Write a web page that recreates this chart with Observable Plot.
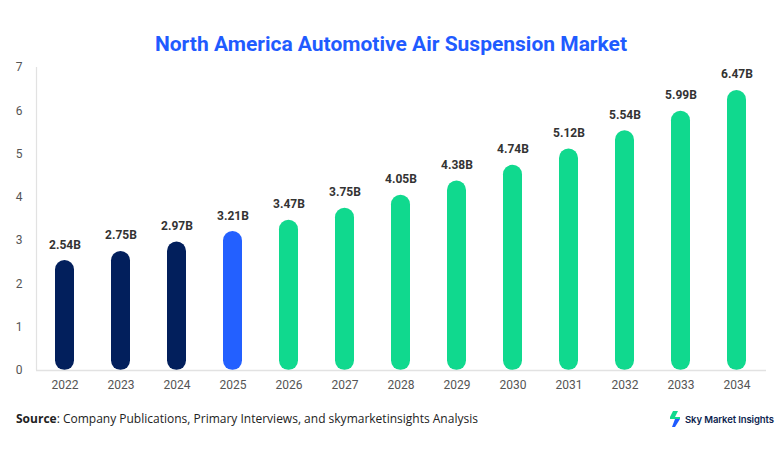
<!DOCTYPE html>
<html>
<head>
<meta charset="utf-8">
<script src="https://cdn.jsdelivr.net/npm/d3@7"></script>
<script src="https://cdn.jsdelivr.net/npm/@observablehq/plot@0.6"></script>
<style>
  body { margin: 0; background: #fff; width: 782px; height: 454px; overflow: hidden; position: relative; font-family: Roboto, "Liberation Sans", Arial, sans-serif; }
  #title { position: absolute; top: 32px; left: 0; width: 782px; text-align: center; font: bold 21px Roboto, "Liberation Sans", Arial, sans-serif; color: #1f5bff; }
  #chart { position: absolute; top: 57px; left: 0; }
  #source { position: absolute; top: 410px; left: 16px; font: 12px "Open Sans", "Noto Sans", sans-serif; color: #222; }
  #logo { position: absolute; top: 411px; left: 668px; display: flex; align-items: center; font: 600 9.5px Inter, "Noto Sans", sans-serif; color: #0d1f4f; letter-spacing: -0.1px; }
  #logo svg { margin-right: 3px; }
</style>
</head>
<body>
<div id="title">North America Automotive Air Suspension Market</div>
<div id="chart"></div>
<div id="source"><b>Source</b>: Company Publications, Primary Interviews, and skymarketinsights Analysis</div>
<div id="logo">
  <svg width="14" height="16" viewBox="0 0 14 16">
    <polygon points="5,0 10,0 7,6 2,6" fill="#10d98e"/>
    <polygon points="2,6 12,6 12,8 2,8" fill="#10d98e"/>
    <polygon points="7,8 12,8 7,16 4,16" fill="#1f5bff"/>
  </svg>
  <span>Sky Market Insights</span>
</div>
<script>
const years = ["2022","2023","2024","2025","2026","2027","2028","2029","2030","2031","2032","2033","2034"];
const values = [2.54, 2.75, 2.97, 3.21, 3.47, 3.75, 4.05, 4.38, 4.74, 5.12, 5.54, 5.99, 6.47];
const labels = ["2.54B","2.75B","2.97B","3.21B","3.47B","3.75B","4.05B","4.38B","4.74B","5.12B","5.54B","5.99B","6.47B"];
const kinds = ["hist","hist","hist","base","fcst","fcst","fcst","fcst","fcst","fcst","fcst","fcst","fcst"];
const yTicks = [0,1,2,3,4,5,6,7];

const data = years.map((y, i) => ({year: y, value: values[i], label: labels[i], kind: kinds[i]}));

const leftAxisLine = (index, scales, values, dimensions) => {
  const g = d3.create("svg:line")
    .attr("x1", dimensions.marginLeft + 0.5)
    .attr("x2", dimensions.marginLeft + 0.5)
    .attr("y1", dimensions.marginTop)
    .attr("y2", dimensions.height - dimensions.marginBottom)
    .attr("stroke", "#e2e2e2")
    .attr("stroke-width", 1.2);
  return g.node();
};

const chart = Plot.plot({
  width: 782,
  height: 343,
  marginTop: 10,
  marginBottom: 30,
  marginLeft: 36,
  marginRight: 16,
  style: {fontFamily: "Roboto, 'Liberation Sans', Arial, sans-serif", fontSize: "12px", color: "#555", overflow: "visible"},
  x: {domain: years, paddingInner: 0.66, paddingOuter: 0.33, label: null, tickSize: 0, tickPadding: 10},
  y: {domain: [0, 7], ticks: yTicks, label: null, tickSize: 0, tickPadding: 14, tickFormat: d3.format("d")},
  color: {domain: ["hist","base","fcst"], range: ["#021f5c","#2360ff","#10d98e"]},
  marks: [
    Plot.barY(data, {x: "year", y: "value", fill: "kind", ry1: 9.5, rx1: 9.5, rx2: 9.5}),
    Plot.ruleY([0], {stroke: "#e2e2e2", strokeWidth: 1.5}),
    leftAxisLine,
    Plot.text(data, {x: "year", y: "value", text: "label", dy: -12, lineAnchor: "bottom", fontWeight: "bold", fontSize: 12, fill: "#333"})
  ]
});
document.getElementById("chart").appendChild(chart);
</script>
</body>
</html>
